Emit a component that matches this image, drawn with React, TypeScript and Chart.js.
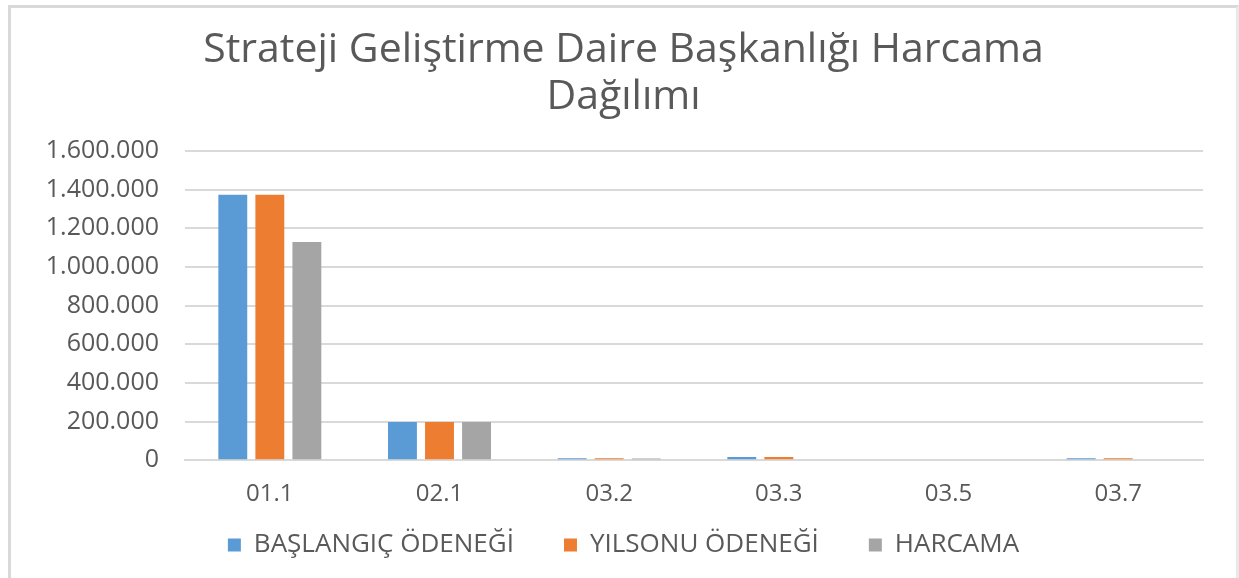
import React, { useEffect, useRef } from "react";
import { Chart, registerables } from "chart.js";

Chart.register(...registerables);

const titleLines = ["Strateji Geliştirme Daire Başkanlığı Harcama", "Dağılımı"];
const categories = ["01.1", "02.1", "03.2", "03.3", "03.5", "03.7"];
const baslangic = [1374000, 198000, 10000, 17000, 0, 10000];
const yilsonu = [1374000, 198000, 10000, 17000, 0, 10000];
const harcama = [1129000, 198000, 9000, 0, 0, 0];
const seriesNames = ["BAŞLANGIÇ ÖDENEĞİ", "YILSONU ÖDENEĞİ", "HARCAMA"];
const seriesColors = ["#5B9BD5", "#ED7D31", "#A5A5A5"];
const yTicks = [0, 200000, 400000, 600000, 800000, 1000000, 1200000, 1400000, 1600000];

const fmt = (v: number) => (v === 0 ? "0" : v.toLocaleString("de-DE"));

const legendTweak = {
  id: "legendTweak",
  afterInit(chart: any) {
    const lg = chart.legend;
    if (!lg) return;
    const orig = lg.fit.bind(lg);
    lg.fit = function () {
      orig();
      this.height -= 37;
    };
  },
  afterLayout(chart: any) {
    const lg = chart.legend;
    if (!lg) return;
    lg.top -= 47;
  },
};

export default function App() {
  const ref = useRef<HTMLCanvasElement | null>(null);
  useEffect(() => {
    if (!ref.current) return;
    const text = "#595959";
    const chart = new Chart(ref.current, {
      type: "bar",
      data: {
        labels: categories,
        datasets: [baslangic, yilsonu, harcama].map((d, i) => ({
          label: seriesNames[i],
          data: d,
          backgroundColor: seriesColors[i],
          borderWidth: 0,
          categoryPercentage: 0.655,
          barPercentage: 0.78,
        })),
      },
      plugins: [legendTweak],
      options: {
        animation: false,
        responsive: false,
        maintainAspectRatio: false,
        layout: { padding: { left: 33, right: 33, top: 0, bottom: 0 } },
        plugins: {
          title: {
            display: true,
            text: titleLines,
            color: text,
            font: { family: "'Open Sans'", size: 41, weight: "normal", lineHeight: 1.146 },
            padding: { top: 18.5, bottom: 30.5 },
          },
          legend: {
            position: "bottom",
            labels: {
              color: text,
              font: { family: "'Open Sans'", size: 26 },
              boxWidth: 13,
              boxHeight: 13,
              padding: 50,
            },
          },
          tooltip: { enabled: false },
        },
        scales: {
          x: {
            grid: { display: false, drawTicks: false },
            border: { display: true, color: "#D9D9D9", width: 2 },
            ticks: { color: text, font: { family: "'Open Sans'", size: 24 }, padding: 20 },
          },
          y: {
            min: 0,
            max: 1600000,
            afterBuildTicks: (s: any) => {
              s.ticks = yTicks.map((v) => ({ value: v }));
            },
            afterFit: (s: any) => {
              s.width = 141;
            },
            grid: { color: "#D9D9D9", lineWidth: 2, drawTicks: false },
            border: { display: false },
            ticks: {
              color: text,
              font: { family: "'Open Sans'", size: 25 },
              padding: 26,
              callback: (v: any) => fmt(Number(v)),
            },
          },
        },
      },
    });
    return () => chart.destroy();
  }, []);
  return (
    <div
      style={{
        position: "absolute",
        left: 8,
        top: 5,
        width: 1231,
        height: 573,
        boxSizing: "border-box",
        borderTop: "3px solid #D9D9D9",
        borderLeft: "3px solid #D9D9D9",
        borderRight: "3px solid #E8E8E8",
        background: "#fff",
      }}
    >
      <canvas ref={ref} width={1225} height={570} style={{ display: "block" }} />
    </div>
  );
}
